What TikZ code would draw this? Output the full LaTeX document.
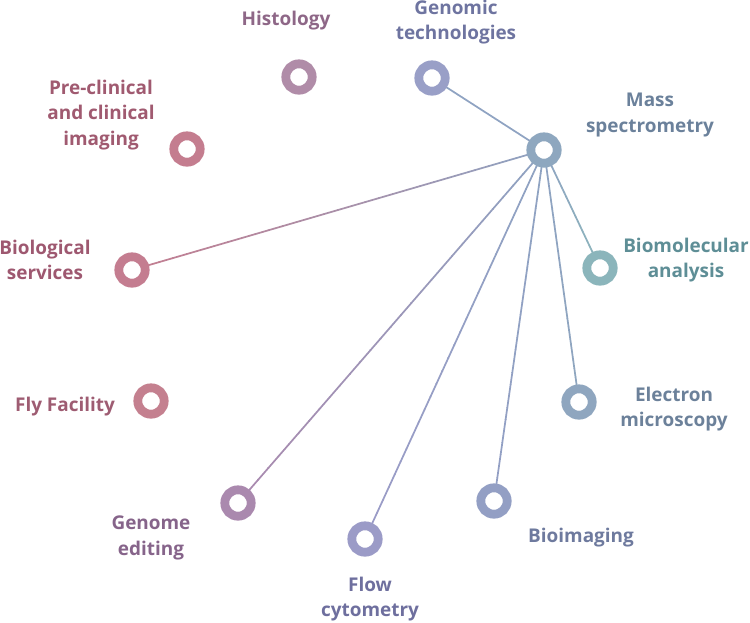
\documentclass[tikz,border=0pt]{standalone}
\usepackage{fontspec}
\setmainfont{Open Sans}
\usetikzlibrary{calc}
\pgfdeclarelayer{bg}
\pgfsetlayers{bg,main}
\definecolor{rHis}{HTML}{B08CA8}\definecolor{tHis}{HTML}{8E6787}
\definecolor{rGen}{HTML}{999FC7}\definecolor{tGen}{HTML}{6E74A0}
\definecolor{rMas}{HTML}{8EA7BF}\definecolor{tMas}{HTML}{6B819B}
\definecolor{rPre}{HTML}{C47D8F}\definecolor{tPre}{HTML}{A05A70}
\definecolor{rBio}{HTML}{C47D90}\definecolor{tBio}{HTML}{9E5870}
\definecolor{rMol}{HTML}{8BB5BB}\definecolor{tMol}{HTML}{5E8E96}
\definecolor{rFly}{HTML}{C4808F}\definecolor{tFly}{HTML}{9E5C72}
\definecolor{rEle}{HTML}{8FA6BF}\definecolor{tEle}{HTML}{6C819A}
\definecolor{rImg}{HTML}{939FC4}\definecolor{tImg}{HTML}{6E7A9E}
\definecolor{rFlo}{HTML}{9B9BC7}\definecolor{tFlo}{HTML}{6E6F9E}
\definecolor{rEdi}{HTML}{AA89AE}\definecolor{tEdi}{HTML}{86648A}
\definecolor{lMas}{HTML}{8FA3C2}
\tikzset{
  ring/.style={circle, draw=#1, fill=white, line width=6.6pt, minimum size=19.8pt, inner sep=0pt},
  lab/.style={text=#1, font=\bfseries\fontsize{14.2pt}{19.2pt}\selectfont, align=center, inner sep=0pt},
  conn/.style={line width=1.3pt}
}
\newcommand{\gradline}[4]{% from node #1 color #2 to node #3 color #4
  \foreach \k in {0,...,29}{
    \pgfmathsetmacro{\ta}{\k/30}
    \pgfmathsetmacro{\tb}{(\k+1.05)/30}
    \pgfmathsetmacro{\pc}{100-100*(\k+0.5)/30}
    \draw[conn, color=#2!\pc!#4] ($(#1.center)!\ta!(#3.center)$) -- ($(#1.center)!\tb!(#3.center)$);
  }
}
\begin{document}
\begin{tikzpicture}[x=0.75pt,y=-0.75pt]
\useasboundingbox (0,0) rectangle (750,622);
% rings
\node[ring=rHis] (his) at (299,77) {};
\node[ring=rGen] (gen) at (432,78) {};
\node[ring=rMas] (mas) at (544,150) {};
\node[ring=rPre] (pre) at (187,149) {};
\node[ring=rBio] (bio) at (132,270) {};
\node[ring=rMol] (mol) at (600,268) {};
\node[ring=rFly] (fly) at (151,401) {};
\node[ring=rEle] (ele) at (579,402) {};
\node[ring=rEdi] (edi) at (238,503) {};
\node[ring=rFlo] (flo) at (365,539) {};
\node[ring=rImg] (img) at (494,501) {};
% connectors
\begin{pgfonlayer}{bg}
\gradline{mas}{lMas}{gen}{lMas}
\gradline{mas}{lMas}{bio}{rBio}
\gradline{mas}{lMas}{edi}{rEdi}
\gradline{mas}{lMas}{flo}{rFlo}
\gradline{mas}{lMas}{img}{rImg}
\gradline{mas}{lMas}{ele}{rEle}
\gradline{mas}{lMas}{mol}{rMol}
\end{pgfonlayer}
% labels
\node[lab=tHis] (lhis) at (286,21) {Histology};
\node[lab=tGen] (lgen) at (456,22) {Genomic\\technologies};
\node[lab=tMas] (lmas) at (650,115) {Mass\\spectrometry};
\node[lab=tPre] (lpre) at (101,115) {Pre-clinical\\and clinical\\imaging};
\node[lab=tBio] (lbio) at (45,260) {Biological\\services};
\node[lab=tMol] (lmol) at (686,260) {Biomolecular\\analysis};
\node[lab=tFly] (lfly) at (65,407) {Fly Facility};
\node[lab=tEle] (lele) at (674,409) {Electron\\microscopy};
\node[lab=tEdi] (ledi) at (151,538) {Genome\\editing};
\node[lab=tFlo] (lflo) at (370,599) {Flow\\cytometry};
\node[lab=tImg] (limg) at (581,538) {Bioimaging};
\end{tikzpicture}
\end{document}
